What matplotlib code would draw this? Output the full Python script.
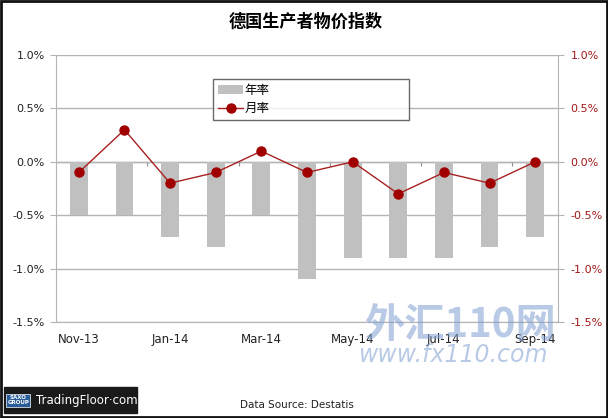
import numpy as np
import matplotlib.pyplot as plt
from matplotlib.patches import Rectangle

plt.rcParams['font.family'] = ['DejaVu Sans', 'Noto Sans CJK SC']

# data
months = ['Nov-13', 'Dec-13', 'Jan-14', 'Feb-14', 'Mar-14', 'Apr-14',
          'May-14', 'Jun-14', 'Jul-14', 'Aug-14', 'Sep-14']
yoy = [-0.5, -0.5, -0.7, -0.8, -0.5, -1.1, -0.9, -0.9, -0.9, -0.8, -0.7]
mom = [-0.1, 0.3, -0.2, -0.1, 0.1, -0.1, 0.0, -0.3, -0.1, -0.2, 0.0]
yticks = [-1.5, -1.0, -0.5, 0.0, 0.5, 1.0]

red = '#a00000'
gridc = '#b4b4b4'

fig = plt.figure(figsize=(6.08, 4.18), dpi=100)
ax = fig.add_axes([0.0921, 0.2297, 0.8257, 0.6387])
x = np.arange(len(months))

b = ax.bar(x, yoy, width=0.39, color='#c0c0c0', zorder=2, label='年率')
ax2 = ax.twinx()
l, = ax2.plot(x, mom, color='#a82020', lw=1, marker='o', ms=6.5,
              mfc=red, mec=red, label='月率', zorder=3)

for a in (ax, ax2):
    a.set_ylim(-1.5, 1.0)
    a.set_yticks(yticks)
    a.set_xlim(-0.5, len(months) - 0.5)
    for s in a.spines.values():
        s.set_visible(False)
for side in ('left', 'bottom'):
    ax.spines[side].set_visible(True)
    ax.spines[side].set_color(gridc)
ax2.spines['right'].set_visible(True)
ax2.spines['right'].set_color(gridc)

ax.set_yticklabels(['%.1f%%' % v for v in yticks], fontsize=8, color='#222222')
ax2.set_yticklabels(['%.1f%%' % v for v in yticks], fontsize=8, color='#a01818')
ax.tick_params(axis='y', length=4, color=gridc, pad=4)
ax2.tick_params(axis='y', length=4, color=gridc, pad=5)
ax.yaxis.grid(True, color=gridc, lw=1)
ax.set_axisbelow(True)

ax.set_xticks(x[::2])
ax.set_xticklabels(months[::2], fontsize=8.5, color='#222222')
ax.tick_params(axis='x', length=0, pad=8)

# small category ticks on the zero line
sec = ax.secondary_xaxis(1.5 / 2.5)
sec.set_xticks(x[1:-1:2] + 0.5)
sec.set_xticklabels([])
sec.tick_params(axis='x', length=3, color='#909090', direction='in')
sec.spines['bottom'].set_visible(False)

leg = ax2.legend([b, l], ['年率', '月率'], loc='upper left',
                 bbox_to_anchor=(0.313, 0.76, 0.39, 0.15), mode='expand',
                 frameon=True, fancybox=False, handlelength=2,
                 handletextpad=0.1, borderpad=0.4, labelspacing=0.4,
                 borderaxespad=0,
                 prop={'family': ['Noto Sans CJK SC'], 'size': 9})
leg.get_frame().set_edgecolor('#444444')
leg.get_frame().set_linewidth(1)

fig.text(0.502, 0.947, '德国生产者物价指数', ha='center', va='center',
         fontsize=12.3, fontweight='bold', family=['Noto Sans CJK SC'])

# watermark
fig.text(0.756, 0.222, '外汇110网', ha='center', va='center', fontsize=29,
         fontweight='bold', style='italic', color='#7f9fd0', alpha=0.55,
         family=['Noto Sans CJK SC'])
fig.text(0.746, 0.150, 'www.fx110.com', ha='center', va='center',
         fontsize=17, style='italic', color='#7f9fd0', alpha=0.55)

fig.text(0.489, 0.030, 'Data Source: Destatis', ha='center', va='center',
         fontsize=7.5, color='#222222')

# logo
fig.patches.append(Rectangle((0.007, 0.011), 0.218, 0.063, transform=fig.transFigure,
                             color='#1a1a1a', zorder=5))
fig.text(0.03, 0.043, 'SAXO\nGROUP', ha='center', va='center', fontsize=4,
         color='white', fontweight='bold', zorder=6,
         bbox=dict(boxstyle='square,pad=0.2', fc='#2a5c9a', ec='white', lw=0.5))
fig.text(0.142, 0.043, 'TradingFloor·com', ha='center', va='center',
         fontsize=8.5, color='white', zorder=6)

fig.patches.append(Rectangle((0.002, 0.002), 0.996, 0.995, transform=fig.transFigure,
                             fill=False, ec='#111111', lw=2, zorder=10))

fig.savefig('out.png', dpi=100)
